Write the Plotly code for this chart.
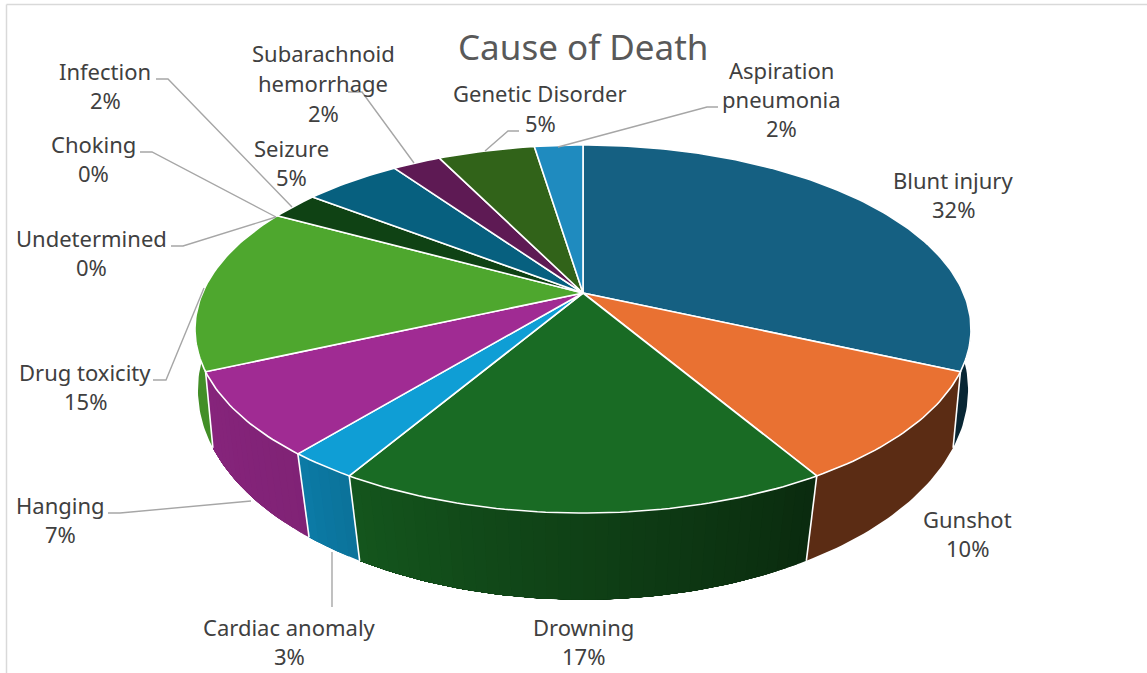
import math
import plotly.graph_objects as go

# ---- data (case counts; clockwise from 12 o'clock)
categories = ["Blunt injury", "Gunshot", "Drowning", "Cardiac anomaly", "Hanging",
              "Drug toxicity", "Undetermined", "Choking", "Infection", "Seizure",
              "Subarachnoid hemorrhage", "Genetic Disorder", "Aspiration pneumonia"]
counts = [13, 4, 7, 1, 3, 6, 0, 0, 1, 2, 1, 2, 1]
percent_labels = ["32%", "10%", "17%", "3%", "7%", "15%", "0%", "0%", "2%", "5%", "2%", "5%", "2%"]

# ---- styles
top_colors = ["#156082", "#E97132", "#196B24", "#0F9ED5", "#A02B93", "#4EA72E", "#0D3A4E",
              "#0B3041", "#0F4214", "#07607F", "#5E1A54", "#316319", "#1F8BBF"]
# wall brightness at the clockwise start and end of each slice
wall_shade = [(.40, .40), (.39, .39), (.40, .80), (.72, .78), (.80, .84), (.85, .85), (.8, .8),
              (.8, .8), (.8, .8), (.8, .8), (.8, .8), (.8, .8), (.8, .8)]
TEXT = "#404040"
LEADER = "#A6A6A6"
FONT = "Noto Sans"
TOP_FACE = dict(c=.1957, d=380.5, k=177.0, cy=293.0)
BOTTOM_FACE = dict(c=.15, d=380.7, k=205.0, cy=358.5)
CX = 583.0
TEXT_DY = -1

label_lines = {
    "Blunt injury": (953, [181, 210], ["Blunt injury"]),
    "Gunshot": (967, [520, 549], ["Gunshot"]),
    "Drowning": (583, [628, 657], ["Drowning"]),
    "Cardiac anomaly": (289, [628, 657], ["Cardiac anomaly"]),
    "Hanging": (60, [506, 535], ["Hanging"]),
    "Drug toxicity": (85, [373, 402], ["Drug toxicity"]),
    "Undetermined": (91, [239, 268], ["Undetermined"]),
    "Choking": (93, [145, 174], ["Choking"]),
    "Infection": (105, [72, 101], ["Infection"]),
    "Seizure": (291, [149, 178], ["Seizure"]),
    "Subarachnoid hemorrhage": (323, [54, 84, 114], ["Subarachnoid", "hemorrhage"]),
    "Genetic Disorder": (540, [94, 124], ["Genetic Disorder"]),
    "Aspiration pneumonia": (781, [71, 100, 129], ["Aspiration", "pneumonia"]),
}
leaders = [
    [(156, 79), (168, 79), (292, 207)],
    [(140, 152), (152, 152), (276, 217)],
    [(171, 246), (183, 246), (276, 217)],
    [(348, 92), (362, 92), (414, 163)],
    [(519, 131), (508, 131), (485, 151)],
    [(718, 107), (707, 107), (558, 147)],
    [(153, 380), (166, 380), (204, 288)],
    [(108, 513), (120, 513), (251, 501)],
    [(332, 607), (332, 552)],
]


def project(theta, face, r=1.0):
    """Perspective projection of a disc point; theta is clockwise from 12 o'clock."""
    x, y = r * math.sin(theta), r * math.cos(theta)
    w = 1 + face["c"] * y
    return CX + face["d"] * x / w, face["cy"] - face["k"] * y / w


def shade(hex_color, f):
    r, g, b = (int(hex_color[i:i + 2], 16) for i in (1, 3, 5))
    return f"rgb({r * f:.0f},{g * f:.0f},{b * f:.0f})"


def arc(a0, a1, face, step=math.radians(1)):
    n = max(2, int(abs(a1 - a0) / step))
    return [project(a0 + (a1 - a0) * j / n, face) for j in range(n + 1)]


total = sum(counts)
edges = [0.0]
for v in counts:
    edges.append(edges[-1] + v / total * 2 * math.pi)

VIS0, VIS1 = math.radians(75), math.radians(285)
fig = go.Figure()

# side walls: overlapping bands painted clockwise, so the shading has no seams
for i, name in enumerate(categories):
    a0, a1 = max(edges[i], VIS0), min(edges[i + 1], VIS1)
    if a1 <= a0:
        continue
    s0, s1 = wall_shade[i]
    n = 1 if s0 == s1 else max(2, int((a1 - a0) / math.radians(1.5)))
    for j in range(n):
        t = a0 + (a1 - a0) * j / n
        col = shade(top_colors[i], s0 + (s1 - s0) * (j + .5) / n)
        pts = arc(t, a1, TOP_FACE) + arc(a1, t, BOTTOM_FACE)
        pts.append(pts[0])
        fig.add_trace(go.Scatter(x=[p[0] for p in pts], y=[p[1] for p in pts], mode="lines",
                                 fill="toself", fillcolor=col, line=dict(width=0),
                                 hoverinfo="skip", showlegend=False))

# white seams between walls
for a in edges[1:-1]:
    if math.cos(a) < 0:
        p, q = project(a, TOP_FACE), project(a, BOTTOM_FACE)
        fig.add_trace(go.Scatter(x=[p[0], q[0]], y=[p[1], q[1]], mode="lines",
                                 line=dict(color="white", width=1.6), hoverinfo="skip", showlegend=False))

# top face
for i, name in enumerate(categories):
    a0, a1 = edges[i], edges[i + 1]
    if a1 <= a0:
        continue
    apex = project(0, TOP_FACE, 0)
    pts = [apex] + arc(a0, a1, TOP_FACE) + [apex]
    fig.add_trace(go.Scatter(x=[p[0] for p in pts], y=[p[1] for p in pts], mode="lines",
                             fill="toself", fillcolor=top_colors[i], line=dict(color="white", width=1.6),
                             name=name, text=f"{name}: {percent_labels[i]}", hoverinfo="text",
                             showlegend=False))

# leader lines
for line in leaders:
    fig.add_trace(go.Scatter(x=[p[0] for p in line], y=[p[1] for p in line], mode="lines",
                             line=dict(color=LEADER, width=1.4), hoverinfo="skip", showlegend=False))

annotations = [dict(x=583, y=47 + TEXT_DY, text="Cause of Death", showarrow=False, xanchor="center", yanchor="middle",
                    font=dict(family=FONT, size=35, color="#595959"))]
for i, name in enumerate(categories):
    lx, ys, words = label_lines[name]
    for yy, txt in zip(ys, words + [percent_labels[i]]):
        annotations.append(dict(x=lx, y=yy + TEXT_DY, text=txt, showarrow=False, xanchor="center", yanchor="middle",
                                font=dict(family=FONT, size=22, color=TEXT)))

fig.update_layout(
    width=1147, height=673, margin=dict(l=0, r=0, t=0, b=0),
    paper_bgcolor="white", plot_bgcolor="white", showlegend=False, annotations=annotations,
    xaxis=dict(range=[0, 1147], visible=False, fixedrange=True),
    yaxis=dict(range=[673, 0], visible=False, fixedrange=True),
    shapes=[
        dict(type="line", x0=6.5, x1=1147, y0=4.5, y1=4.5, line=dict(color="#D9D9D9", width=1.5)),
        dict(type="line", x0=6.5, x1=6.5, y0=4.5, y1=673, line=dict(color="#D9D9D9", width=1.5)),
    ],
)
fig.write_html("out.html", config=dict(displayModeBar=False),
               post_script="document.body.style.margin='0';document.documentElement.style.overflow='hidden';")
